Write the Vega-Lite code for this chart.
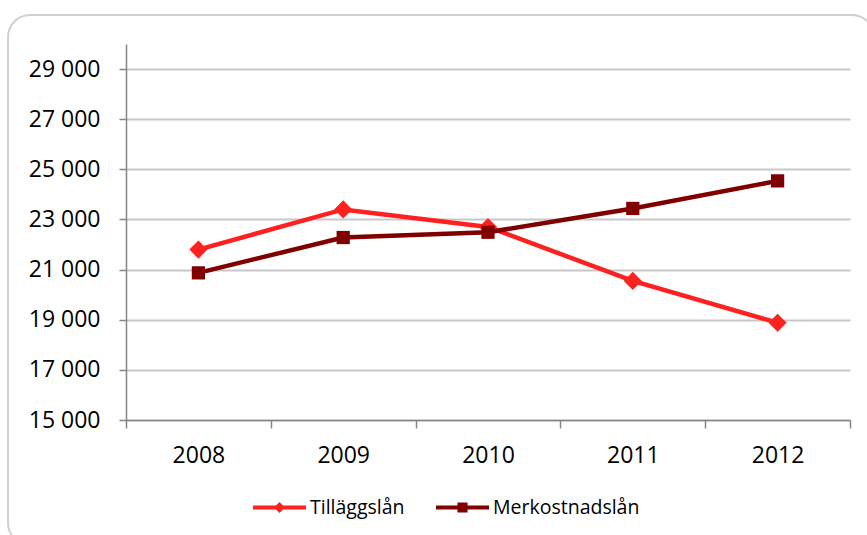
{
  "$schema": "https://vega.github.io/schema/vega-lite/v6.json",
  "width": 866,
  "height": 530,
  "autosize": {"type": "none"},
  "padding": {"left": 8, "top": 15, "right": 0, "bottom": 0},
  "background": "white",
  "config": {
    "view": {"stroke": "#d0d0d0", "strokeWidth": 2, "cornerRadius": 22, "fill": "white"},
    "font": "Open Sans"
  },
  "data": {
    "values": [
      {"year": "2008", "series": "Tilläggslån", "value": 21800},
      {"year": "2009", "series": "Tilläggslån", "value": 23400},
      {"year": "2010", "series": "Tilläggslån", "value": 22700},
      {"year": "2011", "series": "Tilläggslån", "value": 20550},
      {"year": "2012", "series": "Tilläggslån", "value": 18880},
      {"year": "2008", "series": "Merkostnadslån", "value": 20870},
      {"year": "2009", "series": "Merkostnadslån", "value": 22280},
      {"year": "2010", "series": "Merkostnadslån", "value": 22490},
      {"year": "2011", "series": "Merkostnadslån", "value": 23440},
      {"year": "2012", "series": "Merkostnadslån", "value": 24540}
    ]
  },
  "encoding": {
    "x": {
      "field": "year", "type": "ordinal",
      "scale": {"type": "band", "paddingInner": 0, "paddingOuter": 0, "range": [118, 842]},
      "axis": {
        "title": null, "orient": "bottom", "offset": -125, "labelAngle": 0,
        "tickBand": "extent", "tickSize": 8, "tickColor": "#868686", "tickWidth": 1.5,
        "domainColor": "#868686", "domainWidth": 1.5,
        "labelFont": "Open Sans", "labelFontSize": 23, "labelColor": "#000000", "labelPadding": 16,
        "grid": false
      }
    },
    "y": {
      "field": "value", "type": "quantitative",
      "scale": {"domain": [15000, 30000], "range": [405, 29], "nice": false, "zero": false},
      "axis": {
        "title": null, "orient": "left", "offset": -118,
        "values": [15000, 17000, 19000, 21000, 23000, 25000, 27000, 29000],
        "labelExpr": "replace(format(datum.value, ','), ',', ' ')",
        "tickSize": 7, "tickColor": "#868686", "tickWidth": 1.5,
        "domainColor": "#868686", "domainWidth": 1.5,
        "labelFont": "Open Sans", "labelFontSize": 23, "labelColor": "#000000", "labelPadding": 19,
        "grid": true, "gridColor": "#c8c8c8", "gridWidth": 2
      }
    },
    "color": {
      "field": "series", "type": "nominal",
      "scale": {"domain": ["Tilläggslån", "Merkostnadslån"], "range": ["#ff2020", "#800000"]},
      "legend": {
        "title": null, "orient": "none", "direction": "horizontal",
        "legendX": 245, "legendY": 466,
        "labelFont": "Open Sans", "labelFontSize": 19.5, "labelColor": "#000000",
        "labelOffset": 4, "columnPadding": 31,
        "symbolSize": 2809, "symbolStrokeWidth": 0, "symbolOpacity": 1
      }
    }
  },
  "layer": [
    {
      "mark": {"type": "line", "strokeWidth": 4.5}
    },
    {
      "transform": [{"filter": "datum.series === 'Tilläggslån'"}],
      "mark": {"type": "point", "filled": true, "opacity": 1, "shape": "diamond", "size": 330}
    },
    {
      "transform": [{"filter": "datum.series === 'Merkostnadslån'"}],
      "mark": {"type": "point", "filled": true, "opacity": 1, "shape": "square", "size": 175}
    },
    {
      "mark": {"type": "point", "filled": true, "opacity": 1, "size": 0},
      "encoding": {
        "shape": {
          "field": "series", "type": "nominal",
          "scale": {
            "domain": ["Tilläggslån", "Merkostnadslån"],
            "range": [
              "M-1,-0.075H1V0.075H-1ZM0,-0.21L0.21,0L0,0.21L-0.21,0Z",
              "M-1,-0.075H1V0.075H-1ZM-0.19,-0.19H0.19V0.19H-0.19Z"
            ]
          },
          "legend": null
        }
      }
    }
  ]
}
